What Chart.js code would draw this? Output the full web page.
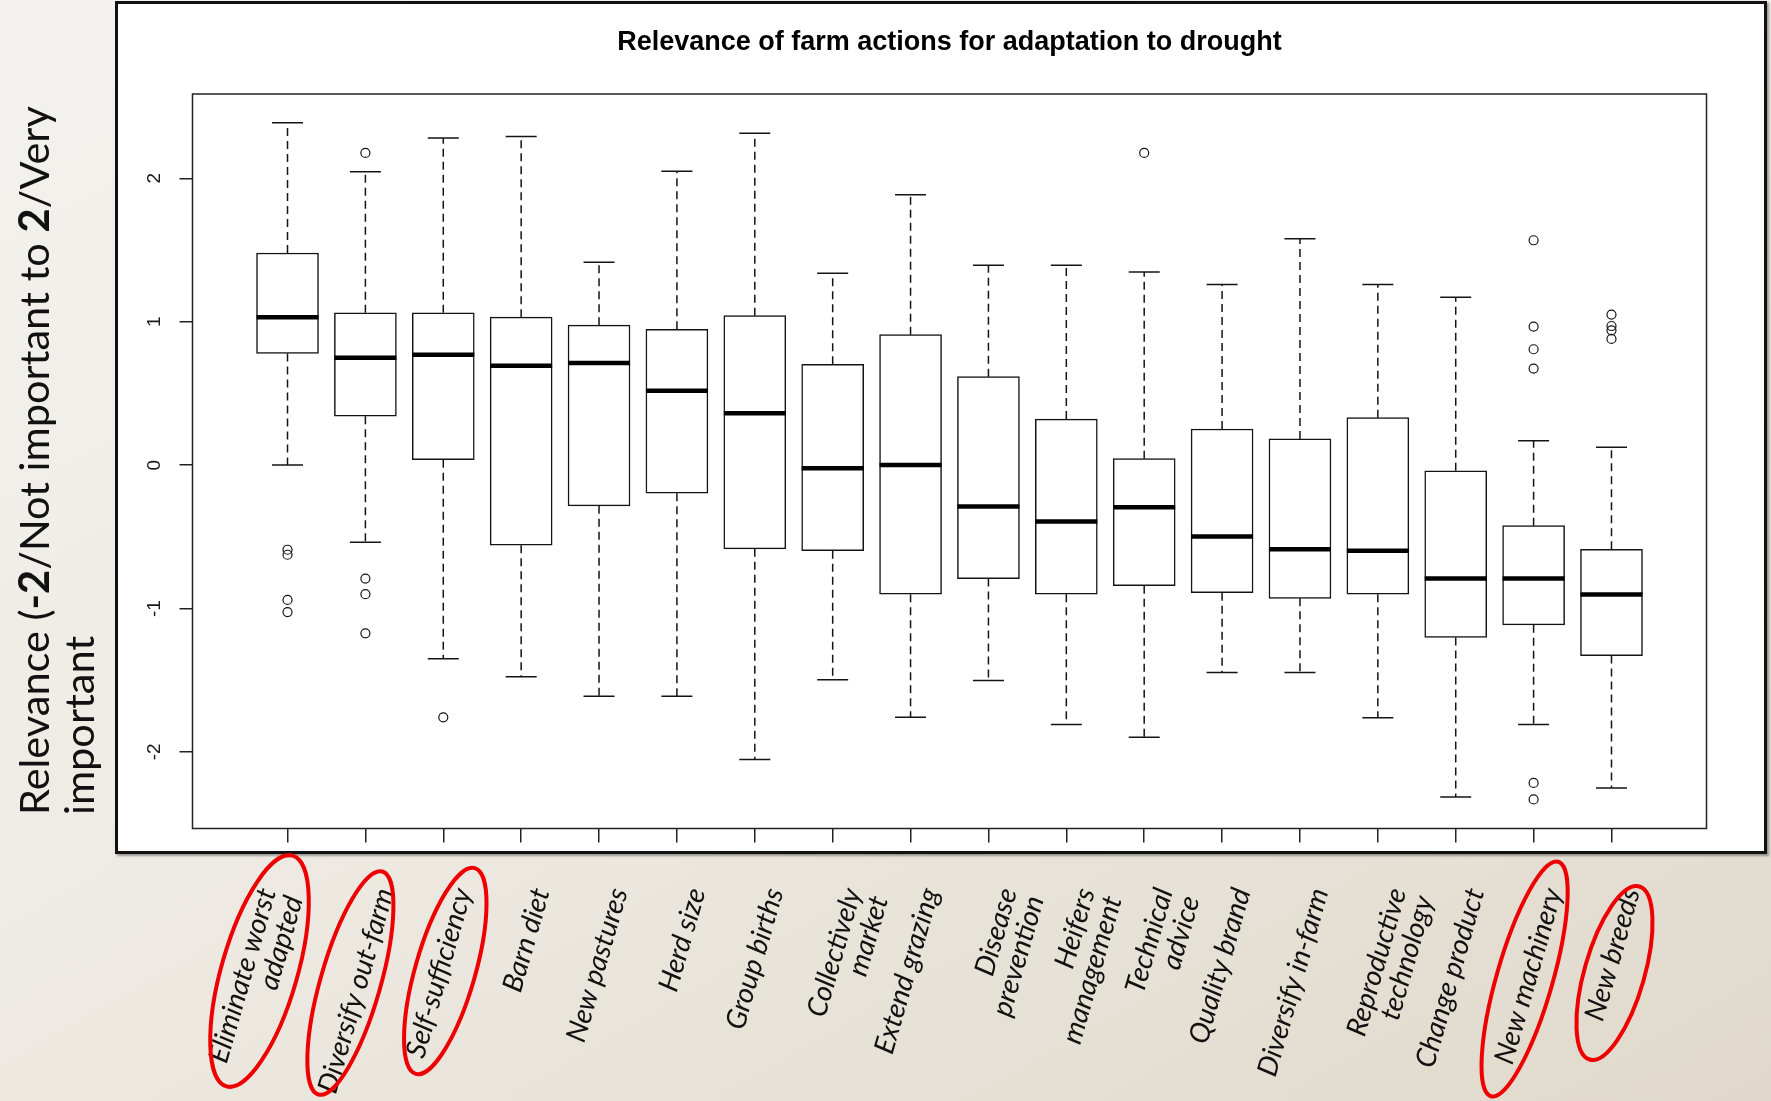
<!DOCTYPE html>
<html>
<head>
<meta charset="utf-8">
<title>Relevance of farm actions for adaptation to drought</title>
<script src="https://cdn.jsdelivr.net/npm/chart.js@4.4.1/dist/chart.umd.min.js"></script>
<style>
  html, body { margin: 0; padding: 0; }
  body {
    width: 1771px; height: 1101px; overflow: hidden; position: relative;
    background: linear-gradient(150deg, #f4f2ee 0%, #eeebe4 45%, #e0d9cb 100%);
  }
  #frame {
    position: absolute; left: 115px; top: 1px; width: 1646px; height: 847px;
    background: #fff; border: 3px solid #111; box-shadow: 2px 2px 2px rgba(0,0,0,0.35);
  }
  #myChart1 { position: absolute; left: 0; top: 0; }
</style>
</head>
<body>
<div id="frame"></div>
<canvas id="myChart1" width="1771" height="1101"></canvas>
<script>
const actions = [
    ['Eliminate worst', 'adapted'], 'Diversify out-farm', 'Self-sufficiency', 'Barn diet',
    'New pastures', 'Herd size', 'Group births', ['Collectively', 'market'], 'Extend grazing',
    ['Disease', 'prevention'], ['Heifers', 'management'], ['Technical', 'advice'], 'Quality brand',
    'Diversify in-farm', ['Reproductive', 'technology'], 'Change product', 'New machinery', 'New breeds'
];

const lowerWhisker = [0.0, -0.538, -1.351, -1.476, -1.611, -1.611, -2.052, -1.496, -1.759,
    -1.502, -1.808, -1.897, -1.446, -1.446, -1.762, -2.314, -1.808, -2.252];
const q1 = [0.779, 0.341, 0.038, -0.558, -0.284, -0.196, -0.584, -0.597, -0.900,
    -0.791, -0.900, -0.841, -0.890, -0.929, -0.900, -1.202, -1.114, -1.328];
const median = [1.032, 0.749, 0.769, 0.693, 0.713, 0.519, 0.361, -0.021, 0.000,
    -0.288, -0.393, -0.294, -0.498, -0.587, -0.597, -0.791, -0.791, -0.903];
const q3 = [1.479, 1.062, 1.062, 1.032, 0.976, 0.947, 1.042, 0.703, 0.910,
    0.617, 0.321, 0.045, 0.252, 0.183, 0.331, -0.040, -0.422, -0.587];
const upperWhisker = [2.388, 2.045, 2.282, 2.292, 1.414, 2.049, 2.315, 1.338, 1.885,
    1.394, 1.394, 1.347, 1.259, 1.578, 1.259, 1.170, 0.170, 0.124];
const outliers = [
    [-0.590, -0.625, -0.940, -1.025], [2.177, -0.791, -0.900, -1.173], [-1.759], [],
    [], [], [], [], [],
    [], [], [2.177], [], [], [], [],
    [1.568, 0.966, 0.808, 0.673, -2.216, -2.331], [1.050, 0.970, 0.940, 0.880]
];
const yTicks = [-2, -1, 0, 1, 2];

const chartTitle = 'Relevance of farm actions for adaptation to drought';
// [text, bold] runs for each line of the y axis title
const yTitle = [
    [['Relevance (', false], ['-2', true], ['/Not important to ', false], ['2', true], ['/Very', false]],
    [['important', false]]
];

const ctx = document.getElementById('myChart1');

const boxData = actions.map((a, i) => ({ x: i + 1, y: [q1[i], q3[i]] }));
const outlierData = [];
outliers.forEach((list, i) => list.forEach(v => outlierData.push({ x: i + 1, y: v })));

const BOX_W = 62;
const LABEL_ANGLE = -74 * Math.PI / 180;

// whiskers, staples and medians on top of the floating bars
const boxParts = {
    id: 'boxParts',
    afterDatasetsDraw(chart) {
        const xs = chart.scales.x, ys = chart.scales.y, c = chart.ctx;
        c.save();
        c.strokeStyle = '#141414';
        actions.forEach((a, i) => {
            const px = xs.getPixelForValue(i + 1);
            const hi = ys.getPixelForValue(upperWhisker[i]);
            const lo = ys.getPixelForValue(lowerWhisker[i]);
            const b3 = ys.getPixelForValue(q3[i]);
            const b1 = ys.getPixelForValue(q1[i]);
            const md = ys.getPixelForValue(median[i]);

            c.lineWidth = 1.5;
            c.setLineDash([8, 5]);
            c.beginPath();
            c.moveTo(px, b3); c.lineTo(px, hi);
            c.moveTo(px, b1); c.lineTo(px, lo);
            c.stroke();

            c.setLineDash([]);
            c.beginPath();
            c.moveTo(px - BOX_W / 4, hi); c.lineTo(px + BOX_W / 4, hi);
            c.moveTo(px - BOX_W / 4, lo); c.lineTo(px + BOX_W / 4, lo);
            c.stroke();

            c.lineWidth = 4.5;
            c.strokeStyle = '#000';
            c.beginPath();
            c.moveTo(px - BOX_W / 2, md); c.lineTo(px + BOX_W / 2, md);
            c.stroke();
            c.strokeStyle = '#141414';
        });
        c.restore();
    }
};

// plot box, title, rotated y labels and y title
const frameText = {
    id: 'frameText',
    afterDraw(chart) {
        const c = chart.ctx, area = chart.chartArea, ys = chart.scales.y;
        c.save();
        c.lineWidth = 1.5;
        c.strokeStyle = '#222';
        c.strokeRect(area.left, area.top, area.right - area.left, area.bottom - area.top);

        c.fillStyle = '#000';
        c.font = 'bold 27px "Liberation Sans", Arial, sans-serif';
        c.textAlign = 'center';
        c.textBaseline = 'alphabetic';
        c.fillText(chartTitle, (area.left + area.right) / 2, 50);

        c.font = '19px "Liberation Sans", Arial, sans-serif';
        c.fillStyle = '#1a1a1a';
        c.textBaseline = 'middle';
        ys.ticks.forEach(t => {
            c.save();
            c.translate(area.left - 38, ys.getPixelForValue(t.value));
            c.rotate(-Math.PI / 2);
            c.fillText(String(t.value), 0, 0);
            c.restore();
        });

        c.fillStyle = '#111';
        c.textAlign = 'left';
        yTitle.forEach((line, k) => {
            c.save();
            c.translate(36 + k * 45, 815);
            c.rotate(-Math.PI / 2);
            let pos = 0;
            line.forEach(([txt, bold]) => {
                c.font = (bold ? 'bold ' : '') + '41.5px Lato, "Noto Sans", sans-serif';
                c.fillText(txt, pos, 0);
                pos += c.measureText(txt).width;
            });
            c.restore();
        });
        c.restore();
    }
};

// slanted action names under the frame; the first one sits a little to the left
const labelShift = { 0: -40 };
const actionLabels = {
    id: 'actionLabels',
    afterDraw(chart) {
        const c = chart.ctx, xs = chart.scales.x;
        c.save();
        c.fillStyle = '#111';
        c.font = 'italic 28px Lato, "Noto Sans", sans-serif';
        c.textAlign = 'right';
        c.textBaseline = 'middle';
        actions.forEach((a, i) => {
            const lines = Array.isArray(a) ? a : [a];
            c.save();
            c.translate(xs.getPixelForValue(i + 1) + 20 + (labelShift[i] || 0), 889);
            c.rotate(LABEL_ANGLE);
            lines.forEach((txt, k) => c.fillText(txt, 0, k * 28));
            c.restore();
        });
        c.restore();
    }
};

// red marks round the highlighted actions
const circled = [
    { index: 0, dx: -28, cy: 971, rx: 120, ry: 38 },
    { index: 1, dx: -15, cy: 983, rx: 116, ry: 30 },
    { index: 2, dx: 2, cy: 971, rx: 107, ry: 30 },
    { index: 16, dx: -9, cy: 979, rx: 122, ry: 28 },
    { index: 17, dx: 3, cy: 973, rx: 90, ry: 30 }
];
const redRings = {
    id: 'redRings',
    afterDraw(chart) {
        const c = chart.ctx, xs = chart.scales.x;
        c.save();
        c.strokeStyle = '#ee0000';
        c.lineWidth = 4;
        circled.forEach(r => {
            c.beginPath();
            c.ellipse(xs.getPixelForValue(r.index + 1) + r.dx, r.cy, r.rx, r.ry, -74 * Math.PI / 180, 0, 2 * Math.PI);
            c.stroke();
        });
        c.restore();
    }
};

new Chart(ctx, {
    type: 'bar',
    data: {
        datasets: [{
            data: boxData,
            backgroundColor: '#fff',
            borderColor: '#141414',
            borderWidth: 1.5,
            borderSkipped: false,
            barThickness: BOX_W
        }, {
            type: 'scatter',
            data: outlierData,
            pointRadius: 4.5,
            pointBorderWidth: 1.2,
            pointBorderColor: '#141414',
            pointBackgroundColor: 'rgba(0,0,0,0)'
        }]
    },
    options: {
        responsive: false,
        animation: false,
        devicePixelRatio: 1,
        layout: { padding: { left: 100, right: 64.5, top: 94, bottom: 0 } },
        plugins: { legend: { display: false }, tooltip: { enabled: false }, title: { display: false } },
        scales: {
            x: {
                type: 'linear',
                min: -0.22,
                max: 19.22,
                offset: false,
                afterBuildTicks: scale => { scale.ticks = actions.map((a, i) => ({ value: i + 1 })); },
                afterFit: scale => { scale.height = 272.5; },
                ticks: { display: false },
                grid: { drawOnChartArea: false, offset: false, tickLength: 14, color: '#222', lineWidth: 1.5 },
                border: { display: false }
            },
            y: {
                min: -2.534,
                max: 2.588,
                afterBuildTicks: scale => { scale.ticks = yTicks.map(v => ({ value: v })); },
                afterFit: scale => { scale.width = 92.5; },
                ticks: { display: false },
                grid: { drawOnChartArea: false, tickLength: 13, color: '#222', lineWidth: 1.5 },
                border: { display: false }
            }
        }
    },
    plugins: [boxParts, frameText, actionLabels, redRings]
});
</script>
</body>
</html>
